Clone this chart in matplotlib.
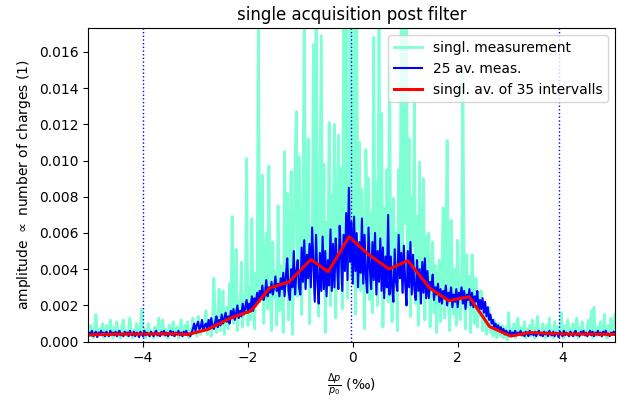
import numpy as np
import matplotlib
matplotlib.use("Agg")
import matplotlib.pyplot as plt

# sample range (per mille)
x_start, x_stop = -5.05, 5.0

# single measurement (values in 1e-3), rows of 0.25 per mille
single_milli = [
    0.6, 0.3, 0.9, 0.4, 0.2, 0.8, 1.5, 0.5, 0.3, 0.7,
    0.4, 1.0, 0.2, 0.6, 0.9, 0.3, 0.5, 1.2, 0.4, 0.2,
    0.8, 0.5, 1.1, 0.3, 0.6, 0.2, 0.9, 1.2, 0.4, 0.6,
    0.3, 0.7, 1.3, 0.5, 0.2, 0.6, 0.4, 1.0, 0.3, 0.5,
    0.9, 1.8, 0.4, 0.7, 0.2, 0.5, 1.0, 0.3, 0.6, 0.4,
    0.2, 0.8, 0.5, 0.3, 1.3, 0.6, 0.4, 1.2, 0.3, 0.7,
    0.5, 0.2, 0.9, 0.4, 0.6, 1.1, 0.3, 0.5, 0.8, 0.2,
    0.6, 1.2, 0.4, 0.3, 0.9, 0.5, 1.1, 0.2, 0.7, 0.4,
    1.3, 0.5, 0.9, 0.3, 1.4, 0.7, 0.4, 1.1, 0.6, 0.9,
    1.7, 0.4, 0.8, 1.2, 0.3, 1.0, 3.5, 1.4, 0.5, 1.1,
    2.9, 0.6, 1.3, 2.8, 0.4, 1.5, 1.9, 0.7, 3.2, 1.2,
    6.9, 1.0, 1.6, 5.1, 0.6, 2.2, 1.4, 4.4, 0.8, 2.5,
    1.8, 10.1, 0.9, 3.0, 1.2, 6.8, 2.1, 0.7, 3.8, 2.4,
    18.0, 2.2, 4.5, 9.2, 1.0, 3.5, 6.0, 1.8, 9.7, 2.6,
    0.6, 5.5, 2.4, 3.9, 0.9, 7.5, 1.7, 4.2, 2.8, 0.5,
    10.5, 3.1, 8.2, 1.2, 5.0, 9.4, 0.4, 4.1, 10.0, 12.7,
    2.5, 10.2, 6.3, 1.5, 7.8, 18.0, 3.0, 5.4, 11.2, 1.0,
    6.4, 4.0, 16.4, 2.6, 18.0, 7.2, 1.4, 8.9, 16.9, 3.1,
    9.8, 0.5, 6.6, 4.3, 12.1, 2.0, 8.1, 5.2, 12.0, 1.3,
    7.0, 11.4, 3.2, 9.6, 1.8, 18.0, 5.5, 18.0, 2.4, 7.7,
    18.0, 3.6, 9.1, 18.0, 1.5, 18.0, 6.2, 11.0, 2.8, 8.4,
    4.5, 0.7, 10.6, 5.9, 9.0, 2.3, 7.1, 1.6, 16.8, 4.2,
    8.8, 2.0, 18.0, 5.1, 12.6, 0.8, 7.4, 3.7, 9.5, 2.2,
    15.2, 4.8, 1.1, 7.9, 3.3, 6.0, 0.6, 9.5, 4.1, 18.0,
    2.7, 18.0, 6.5, 18.0, 3.8, 11.2, 1.4, 8.0, 5.3, 13.3,
    2.1, 6.9, 0.9, 9.9, 4.4, 3.0, 9.0, 1.2, 5.8, 2.6,
    6.0, 0.8, 3.9, 5.5, 1.6, 4.2, 0.5, 3.1, 4.5, 1.1,
    3.4, 7.4, 1.3, 4.9, 11.1, 2.0, 0.6, 6.7, 3.2, 1.5,
    4.0, 0.9, 5.6, 2.4, 1.2, 3.3, 14.9, 2.5, 0.7, 4.8,
    1.9, 3.6, 0.5, 4.8, 2.2, 1.0, 3.5, 0.8, 2.7, 1.4,
    2.8, 0.6, 2.0, 1.3, 0.4, 1.6, 1.9, 0.5, 1.2, 0.3,
    1.2, 0.4, 0.2, 1.0, 0.6, 0.3, 0.9, 0.2, 0.5, 0.8,
    0.1, 1.6, 0.4, 0.7, 0.3, 1.0, 0.2, 0.6, 1.3, 0.4,
    0.8, 0.3, 0.5, 1.1, 0.2, 0.7, 0.4, 0.9, 0.3, 1.2,
    0.5, 0.2, 0.8, 1.4, 0.4, 0.6, 0.3, 1.0, 0.5, 0.2,
    0.9, 0.4, 1.3, 0.3, 0.6, 0.2, 1.1, 0.5, 0.8, 0.3,
    0.6, 1.6, 0.4, 0.2, 0.9, 0.5, 1.2, 0.3, 0.7, 0.4,
    1.0, 0.3, 0.6, 1.3, 0.2, 0.8, 0.5, 1.1, 0.4, 0.6,
    0.3, 0.9, 1.2, 0.4, 1.7, 0.2, 1.9, 0.5, 0.3, 0.8,
    0.5, 1.1, 0.3, 0.6, 1.5, 0.4, 0.2, 0.9, 0.6, 1.3,
    0.4, 0.7, 1.5,
]

# 25 averaged measurements (values in 1e-3), rows of 0.25 per mille
avg25_milli = [
    0.3, 0.5, 0.4, 0.6, 0.3, 0.45, 0.55, 0.25, 0.5, 0.4,
    0.6, 0.35, 0.5, 0.3, 0.55, 0.45, 0.3, 0.6, 0.4, 0.5,
    0.35, 0.55, 0.3, 0.5, 0.6, 0.35, 0.45, 0.3, 0.55, 0.4,
    0.5, 0.3, 0.6, 0.4, 0.35, 0.55, 0.3, 0.5, 0.45, 0.25,
    0.55, 0.4, 0.3, 0.6, 0.35, 0.5, 0.4, 0.3, 0.55, 0.45,
    0.3, 0.5, 0.6, 0.35, 0.45, 0.3, 0.55, 0.4, 0.6, 0.35,
    0.5, 0.3, 0.45, 0.6, 0.35, 0.55, 0.3, 0.5, 0.4, 0.6,
    0.35, 0.5, 0.3, 0.55, 0.4, 0.6, 0.35, 0.45, 0.3, 0.5,
    0.7, 1.0, 0.6, 0.9, 1.1, 0.7, 0.8, 1.2, 0.6, 0.9,
    1.0, 0.7, 1.2, 0.8, 1.3, 0.9, 0.7, 1.1, 1.4, 0.8,
    1.2, 0.9, 1.5, 1.0, 1.3, 1.6, 1.1, 1.4, 1.0, 1.7,
    1.3, 1.8, 1.2, 1.6, 2.0, 1.3, 1.7, 1.4, 2.1, 1.5,
    1.9, 2.3, 1.6, 2.1, 1.8, 2.5, 1.7, 2.4, 2.0, 2.7,
    2.2, 2.8, 2.4, 3.1, 2.3, 2.6, 3.4, 2.5, 3.0, 2.7,
    3.3, 2.6, 3.0, 3.6, 2.8, 3.2, 2.5, 3.5, 2.9, 3.8,
    2.5, 3.6, 4.6, 2.8, 2.3, 4.0, 3.0, 5.0, 2.6, 3.9,
    4.5, 3.0, 2.6, 5.2, 3.3, 5.6, 2.9, 4.8, 3.5, 5.4,
    3.0, 6.3, 4.2, 2.2, 5.9, 3.4, 2.1, 4.9, 2.8, 5.8,
    2.9, 5.0, 2.5, 4.5, 3.1, 6.2, 2.8, 5.4, 3.0, 5.7,
    4.2, 2.9, 6.4, 4.8, 2.8, 5.9, 3.9, 7.1, 3.4, 8.5,
    4.4, 6.6, 3.2, 6.9, 3.9, 6.0, 3.0, 5.5, 3.8, 6.8,
    3.2, 5.9, 3.6, 2.7, 6.3, 4.1, 2.9, 5.5, 3.4, 6.0,
    2.6, 5.0, 3.3, 5.7, 2.8, 5.2, 2.4, 4.7, 3.0, 7.0,
    2.6, 4.7, 3.0, 2.2, 5.1, 3.3, 2.8, 5.9, 3.5, 4.9,
    2.7, 5.3, 3.2, 2.0, 5.0, 3.0, 5.5, 2.6, 4.8, 2.9,
    2.3, 4.5, 2.8, 4.0, 2.1, 4.4, 2.7, 4.6, 2.4, 3.9,
    2.4, 3.3, 2.9, 3.7, 2.3, 3.0, 2.6, 3.2, 2.2, 2.9,
    2.1, 2.8, 2.4, 3.1, 2.0, 2.7, 2.3, 3.0, 1.9, 2.6,
    2.2, 2.9, 1.9, 2.7, 2.4, 3.0, 2.1, 2.8, 1.8, 2.6,
    2.3, 2.9, 2.0, 2.7, 1.9, 2.5, 2.2, 2.8, 1.7, 2.3,
    1.8, 2.4, 1.6, 2.2, 1.4, 1.9, 1.2, 1.5, 1.0, 1.2,
    0.8, 1.0, 0.7, 0.9, 0.6, 0.8, 0.5, 0.7, 0.4, 0.6,
    0.5, 0.4, 0.6, 0.3, 0.5, 0.45, 0.6, 0.35, 0.5, 0.4,
    0.6, 0.35, 0.5, 0.3, 0.55, 0.45, 0.3, 0.6, 0.4, 0.5,
    0.35, 0.55, 0.3, 0.5, 0.6, 0.35, 0.45, 0.3, 0.55, 0.4,
    0.5, 0.3, 0.6, 0.4, 0.35, 0.55, 0.3, 0.5, 0.45, 0.25,
    0.55, 0.4, 0.3, 0.6, 0.35, 0.5, 0.4, 0.3, 0.55, 0.45,
    0.3, 0.5, 0.6, 0.35, 0.45, 0.3, 0.55, 0.4, 0.6, 0.35,
    0.5, 0.3, 0.45, 0.6, 0.35, 0.55, 0.3, 0.5, 0.4, 0.6,
    0.35, 0.5, 0.3, 0.55, 0.4, 0.6, 0.35, 0.45, 0.3, 0.5,
    0.4, 0.55, 0.45,
]

# interval averages
interval_x = [-5.05, -4.7, -4.31, -3.92, -3.53, -3.14, -2.76, -2.34, -1.94, -1.59, -1.21, -0.80, -0.47,
              -0.07, 0.29, 0.69, 1.05, 1.47, 1.83, 2.22, 2.61, 3.01, 3.37, 3.76, 4.15, 4.54, 5.0]
interval_milli = [0.37, 0.40, 0.42, 0.42, 0.44, 0.40, 0.68, 1.29, 1.70, 2.95, 3.31, 4.54, 3.86,
                  5.79, 4.84, 4.01, 4.47, 2.95, 2.26, 2.48, 0.83, 0.31, 0.50, 0.45, 0.42, 0.42, 0.40]

marker_lines = [-4.0, -0.03, 3.93]

single = np.array(single_milli) * 1e-3
avg25 = np.array(avg25_milli) * 1e-3
interval = np.array(interval_milli) * 1e-3
x_single = np.linspace(x_start, x_stop, len(single))
x_avg = np.linspace(x_start, x_stop, len(avg25))

fig = plt.figure(figsize=(6.18, 4.01), dpi=100)
ax = fig.add_axes([0.1424, 0.148, 0.8526, 0.7814])

ax.plot(x_single, single, color='aquamarine', lw=2.0, label='singl. measurement')
ax.plot(x_avg, avg25, color='blue', lw=1.5, label='25 av. meas.')
ax.plot(interval_x, interval, color='red', lw=2.2, label='singl. av. of 35 intervalls')
for xv in marker_lines:
    ax.axvline(xv, color='blue', ls=':', lw=1)

ax.set_xlim(-5.05, 5.0)
ax.set_ylim(0, 0.0173)
ax.set_xticks([-4, -2, 0, 2, 4])
ax.set_yticks(np.arange(0, 0.0161, 0.002))
ax.yaxis.set_major_formatter(matplotlib.ticker.FormatStrFormatter('%.3f'))
ax.set_title('single acquisition post filter')
ax.set_xlabel(r'$\frac{\Delta p}{p_0}$ (‰)')
ax.set_ylabel(r'amplitude $\propto$ number of charges (1)')
ax.legend(loc='upper right')

fig.savefig('out.png', dpi=100)
